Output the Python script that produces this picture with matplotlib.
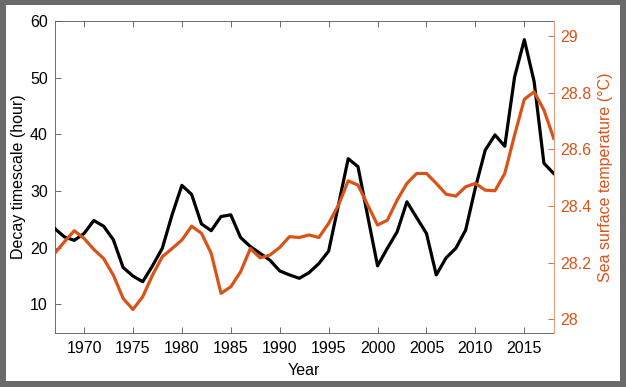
import matplotlib
matplotlib.use('Agg')
import matplotlib.pyplot as plt
from matplotlib.patches import Rectangle

plt.rcParams['font.family'] = ['Liberation Sans', 'DejaVu Sans']

years = list(range(1967, 2019))

# decay timescale (hour), left axis
decay = [23.4, 21.9, 21.3, 22.5, 24.8, 23.8, 21.4, 16.5, 15.0, 14.0,
         16.8, 19.9, 25.8, 31.0, 29.4, 24.2, 23.0, 25.5, 25.8, 21.8,
         20.2, 19.0, 17.8, 15.9, 15.2, 14.6, 15.6, 17.2, 19.4, 27.5,
         35.7, 34.3, 25.5, 16.8, 19.9, 22.8, 28.1, 25.3, 22.5, 15.2,
         18.2, 19.9, 23.1, 30.6, 37.2, 39.9, 37.9, 50.1, 56.7, 49.3,
         34.9, 33.1]

# sea surface temperature (degC), right axis
sst = [28.233, 28.274, 28.313, 28.286, 28.247, 28.215, 28.156, 28.074, 28.035, 28.080,
       28.156, 28.221, 28.250, 28.280, 28.329, 28.304, 28.233, 28.092, 28.115, 28.168,
       28.250, 28.217, 28.227, 28.254, 28.292, 28.289, 28.298, 28.289, 28.339, 28.403,
       28.489, 28.474, 28.403, 28.333, 28.350, 28.421, 28.480, 28.515, 28.515, 28.480,
       28.442, 28.435, 28.468, 28.480, 28.456, 28.454, 28.515, 28.650, 28.777, 28.803,
       28.739, 28.639]

orange = '#D95319'
grey = '#555555'
fs = 11.5

fig = plt.figure(figsize=(6.26, 3.87), dpi=100)
fig.patch.set_facecolor('#6a6a6a')
fig.patches.append(Rectangle((6 / 626, 6 / 387), 614 / 626, 376 / 387,
                             transform=fig.transFigure, facecolor='white',
                             edgecolor='none', zorder=-5))

ax = fig.add_axes([0.0873, 0.1403, 0.7972, 0.8054])
ax2 = ax.twinx()

ax.plot(years, decay, color='black', lw=2.3, zorder=3)
ax2.plot(years, sst, color=orange, lw=2.3)

ax.set_xlim(1967, 2018)
ax.set_ylim(5, 60)
ax2.set_ylim(27.953, 29.053)

ax.set_xticks(range(1970, 2016, 5))
ax.set_yticks(range(10, 61, 10))
ax2.set_yticks([28, 28.2, 28.4, 28.6, 28.8, 29])
ax2.set_yticklabels(['28', '28.2', '28.4', '28.6', '28.8', '29'])

ax.tick_params(axis='x', direction='in', length=4, width=0.6, color=grey,
               labelsize=fs, pad=6, top=True)
ax.tick_params(axis='y', direction='in', length=4, width=0.6, color=grey,
               labelsize=fs, pad=5)
ax2.tick_params(axis='y', direction='in', length=4, width=0.6, color=orange,
                labelcolor=orange, labelsize=fs, pad=5)

for s in ['left', 'bottom', 'top']:
    ax.spines[s].set_color(grey)
    ax.spines[s].set_linewidth(0.6)
for s in ['left', 'bottom', 'top']:
    ax2.spines[s].set_visible(False)
ax.spines['right'].set_visible(False)
ax2.spines['right'].set_color('#E0A080')
ax2.spines['right'].set_linewidth(0.8)

ax.set_xlabel('Year', fontsize=fs, va='center')
ax.xaxis.set_label_coords(0.5, -0.12)
ax.set_ylabel('Decay timescale (hour)', fontsize=fs, va='center')
ax.yaxis.set_label_coords(-0.072, 0.5)
ax2.set_ylabel('Sea surface temperature (°C)', fontsize=fs, color=orange,
               va='center', rotation=90)
ax2.yaxis.set_label_coords(1.104, 0.5)

fig.savefig('out.png', dpi=100, facecolor=fig.get_facecolor())
